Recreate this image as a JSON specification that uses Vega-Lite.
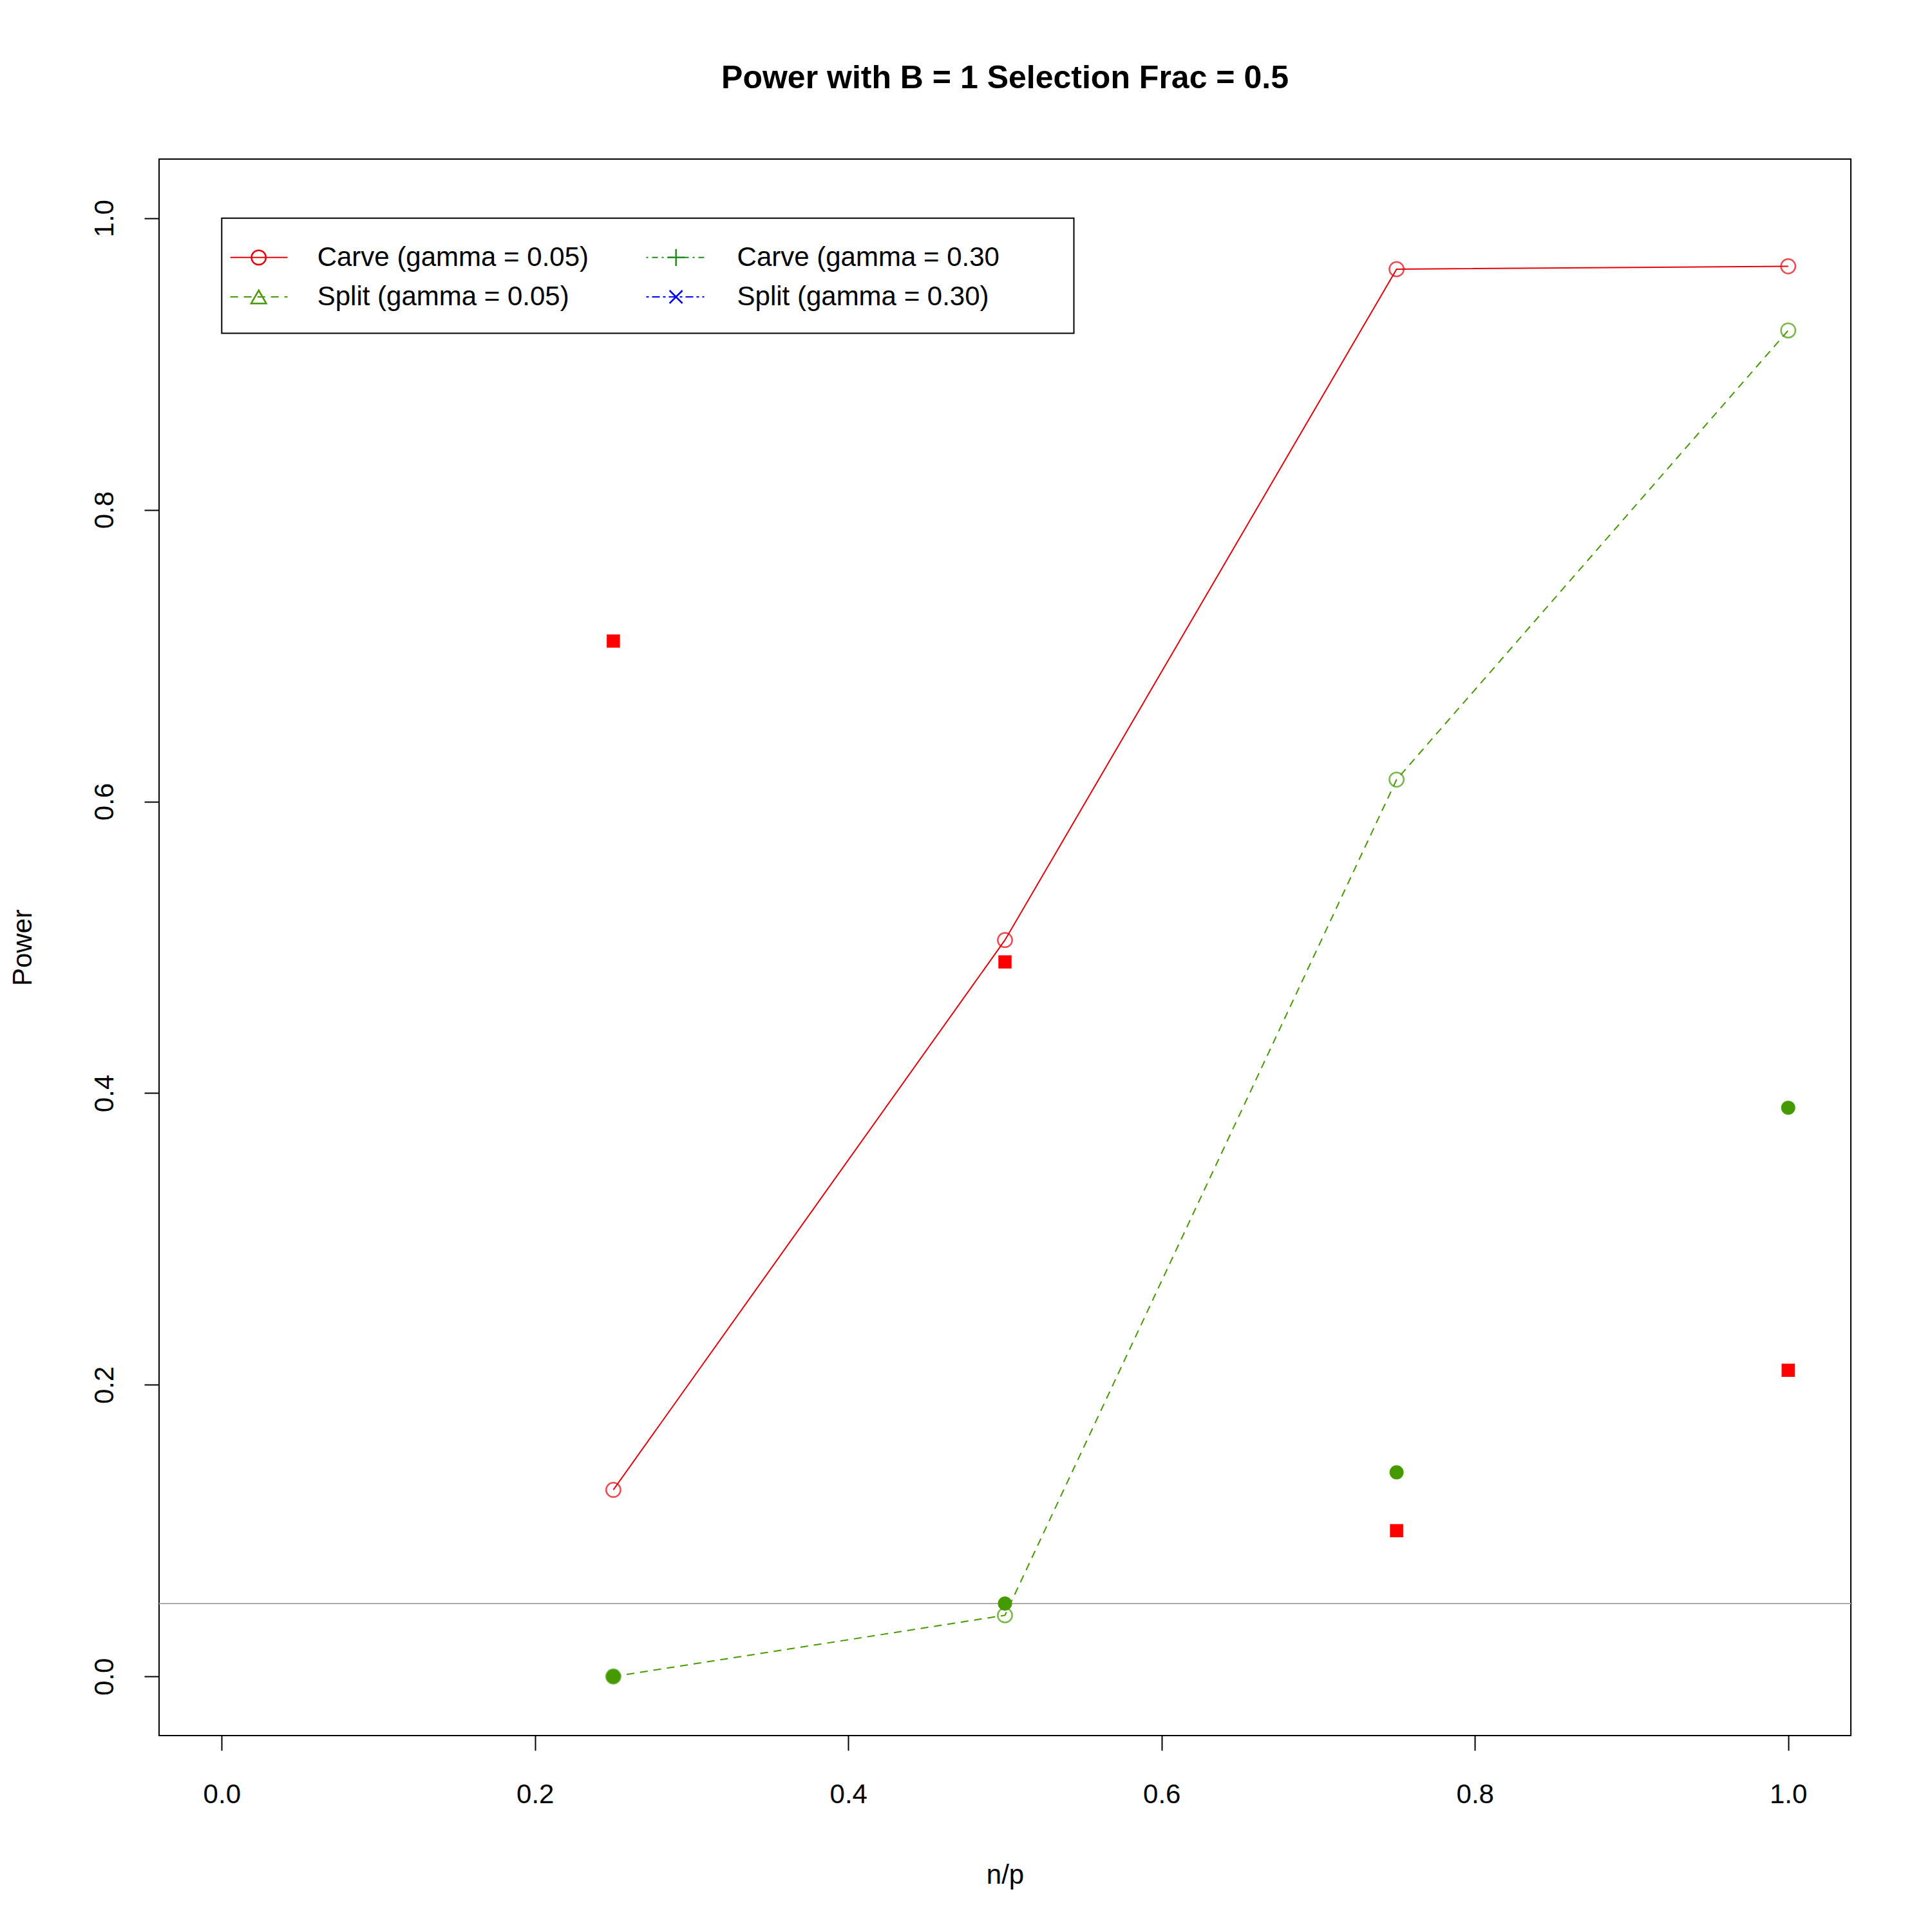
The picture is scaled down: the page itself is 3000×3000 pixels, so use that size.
{
  "$schema": "https://vega.github.io/schema/vega-lite/v6.json",
  "autosize": "none",
  "width": 2627,
  "height": 2448,
  "padding": {"left": 247, "top": 247, "right": 126, "bottom": 305},
  "background": "white",
  "config": {
    "font": "Liberation Sans",
    "view": {"stroke": "black", "strokeWidth": 2},
    "axis": {"grid": false, "domain": false, "tickColor": "black", "tickSize": 23, "tickWidth": 2, "labelFontSize": 42, "labelColor": "black", "titleFontSize": 42, "titleFontWeight": "normal", "titleColor": "black"}
  },
  "title": {"text": "Power with B = 1 Selection Frac = 0.5", "fontSize": 50, "fontWeight": "bold", "anchor": "middle", "offset": 100, "color": "black"},
  "datasets": {
    "pts": [
      {"series": "carve05", "x": 0.25, "y": 0.128},
      {"series": "carve05", "x": 0.5, "y": 0.505},
      {"series": "carve05", "x": 0.75, "y": 0.965},
      {"series": "carve05", "x": 1.0, "y": 0.967},
      {"series": "split05", "x": 0.25, "y": 0.0},
      {"series": "split05", "x": 0.5, "y": 0.042},
      {"series": "split05", "x": 0.75, "y": 0.615},
      {"series": "split05", "x": 1.0, "y": 0.923},
      {"series": "redsq", "x": 0.25, "y": 0.71},
      {"series": "redsq", "x": 0.5, "y": 0.49},
      {"series": "redsq", "x": 0.75, "y": 0.10},
      {"series": "redsq", "x": 1.0, "y": 0.21},
      {"series": "greendot", "x": 0.25, "y": 0.0},
      {"series": "greendot", "x": 0.5, "y": 0.05},
      {"series": "greendot", "x": 0.75, "y": 0.14},
      {"series": "greendot", "x": 1.0, "y": 0.39}
    ],
    "legend": [
      {"id": "carve05", "label": "Carve (gamma = 0.05)", "x0": 0.0055, "x1": 0.042, "xs": 0.0236, "xt": 0.061, "y": 0.973},
      {"id": "split05", "label": "Split (gamma = 0.05)", "x0": 0.0055, "x1": 0.042, "xs": 0.0236, "xt": 0.061, "y": 0.946},
      {"id": "carve30", "label": "Carve (gamma = 0.30", "x0": 0.271, "x1": 0.308, "xs": 0.29, "xt": 0.329, "y": 0.973},
      {"id": "split30", "label": "Split (gamma = 0.30)", "x0": 0.271, "x1": 0.308, "xs": 0.29, "xt": 0.329, "y": 0.946}
    ]
  },
  "encoding": {
    "x": {"field": "x", "type": "quantitative", "title": "n/p", "scale": {"domain": [-0.04, 1.04], "nice": false, "zero": false},
      "axis": {"values": [0, 0.2, 0.4, 0.6, 0.8, 1.0], "format": ".1f", "labelPadding": 48, "titleY": 216, "titleBaseline": "middle"}},
    "y": {"field": "y", "type": "quantitative", "title": "Power", "scale": {"domain": [-0.0405, 1.0405], "nice": false, "zero": false},
      "axis": {"values": [0, 0.2, 0.4, 0.6, 0.8, 1.0], "format": ".1f", "labelAngle": -90, "labelAlign": "center", "labelBaseline": "bottom", "labelPadding": 40, "titleX": -212, "titleBaseline": "middle"}}
  },
  "layer": [
    {"data": {"values": [{"y": 0.05}]}, "mark": {"type": "rule", "color": "#aaaaaa", "strokeWidth": 2}, "encoding": {"y": {"field": "y", "type": "quantitative"}, "x": null}},
    {"data": {"name": "pts"}, "transform": [{"filter": "datum.series === 'carve05'"}], "mark": {"type": "line", "color": "#e8000b", "strokeWidth": 2}},
    {"data": {"name": "pts"}, "transform": [{"filter": "datum.series === 'carve05'"}], "mark": {"type": "point", "shape": "circle", "filled": false, "color": "#e8000b", "size": 500, "strokeWidth": 2.5}},
    {"data": {"name": "pts"}, "transform": [{"filter": "datum.series === 'split05'"}], "mark": {"type": "line", "color": "#459a00", "strokeWidth": 2, "strokeDash": [12, 9]}},
    {"data": {"name": "pts"}, "transform": [{"filter": "datum.series === 'split05'"}], "mark": {"type": "point", "shape": "circle", "filled": false, "color": "#459a00", "size": 500, "strokeWidth": 2.5}},
    {"data": {"name": "pts"}, "transform": [{"filter": "datum.series === 'redsq'"}], "mark": {"type": "point", "shape": "square", "filled": true, "color": "#ff0000", "size": 420, "opacity": 1}},
    {"data": {"name": "pts"}, "transform": [{"filter": "datum.series === 'greendot'"}], "mark": {"type": "point", "shape": "circle", "filled": true, "color": "#459a00", "size": 480, "opacity": 1}},
    {"data": {"values": [{"a": 0.0, "b": 0.544, "c": 1.0, "d": 0.921}]}, "mark": {"type": "rect", "fill": "white", "stroke": "black", "strokeWidth": 2},
      "encoding": {"x": {"field": "a", "type": "quantitative"}, "x2": {"field": "b"}, "y": {"field": "c", "type": "quantitative"}, "y2": {"field": "d"}}},
    {"data": {"name": "legend"},
      "encoding": {"y": {"field": "y", "type": "quantitative"}, "color": {"field": "id", "type": "nominal", "legend": null, "scale": {"domain": ["carve05", "split05", "carve30", "split30"], "range": ["#e8000b", "#459a00", "#228b22", "#0000ff"]}}},
      "layer": [
        {"transform": [{"filter": "datum.id === 'carve05'"}], "mark": {"type": "rule", "strokeWidth": 2}, "encoding": {"x": {"field": "x0", "type": "quantitative"}, "x2": {"field": "x1"}}},
        {"transform": [{"filter": "datum.id === 'split05'"}], "mark": {"type": "rule", "strokeWidth": 2, "strokeDash": [12, 9]}, "encoding": {"x": {"field": "x0", "type": "quantitative"}, "x2": {"field": "x1"}}},
        {"transform": [{"filter": "datum.id === 'carve30'"}], "mark": {"type": "rule", "strokeWidth": 2, "strokeDash": [3, 6, 9, 6]}, "encoding": {"x": {"field": "x0", "type": "quantitative"}, "x2": {"field": "x1"}}},
        {"transform": [{"filter": "datum.id === 'split30'"}], "mark": {"type": "rule", "strokeWidth": 2, "strokeDash": [4, 5, 12, 5]}, "encoding": {"x": {"field": "x0", "type": "quantitative"}, "x2": {"field": "x1"}}},
        {"transform": [{"filter": "datum.id === 'carve05'"}], "mark": {"type": "point", "shape": "circle", "filled": false, "size": 500, "strokeWidth": 2.5, "opacity": 1}, "encoding": {"x": {"field": "xs", "type": "quantitative"}}},
        {"transform": [{"filter": "datum.id === 'split05'"}], "mark": {"type": "point", "shape": "triangle-up", "filled": false, "size": 550, "strokeWidth": 2.5, "opacity": 1}, "encoding": {"x": {"field": "xs", "type": "quantitative"}}},
        {"transform": [{"filter": "datum.id === 'carve30'"}], "mark": {"type": "point", "shape": "M-1,0H1M0,-1V1", "filled": false, "size": 700, "strokeWidth": 2.5, "opacity": 1}, "encoding": {"x": {"field": "xs", "type": "quantitative"}}},
        {"transform": [{"filter": "datum.id === 'split30'"}], "mark": {"type": "point", "shape": "M-1,-1L1,1M-1,1L1,-1", "filled": false, "size": 400, "strokeWidth": 2.5, "opacity": 1}, "encoding": {"x": {"field": "xs", "type": "quantitative"}}},
        {"mark": {"type": "text", "align": "left", "baseline": "middle", "fontSize": 42, "color": "black"}, "encoding": {"x": {"field": "xt", "type": "quantitative"}, "text": {"field": "label"}, "color": {"value": "black"}}}
      ]
    }
  ]
}
